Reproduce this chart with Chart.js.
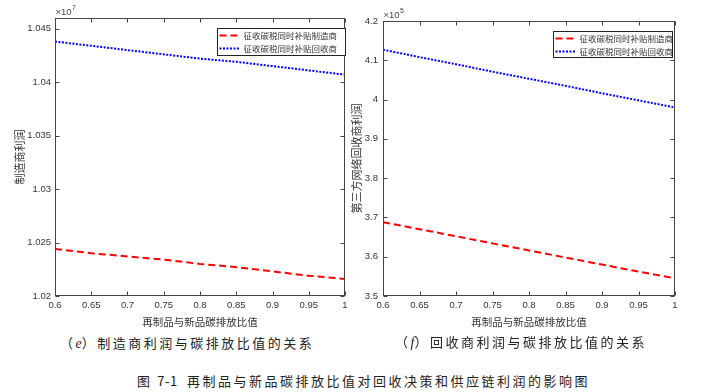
<!DOCTYPE html>
<html lang="zh">
<head>
<meta charset="UTF-8">
<title>图 7-1 再制品与新品碳排放比值的影响</title>
<script src="https://cdn.jsdelivr.net/npm/chart.js@4"></script>
<style>
  body { margin:0; background:#fff; }
  #wrap { position:relative; width:702px; height:392px; overflow:hidden; }
  canvas { position:absolute; top:0; }
  #c1 { left:0; }
  #c2 { left:348px; }
  .cap { position:absolute; font-family:"Noto Sans CJK SC"; font-size:13px; color:#222;
         letter-spacing:2.5px; white-space:nowrap; line-height:16px; }
  .cap i { font-family:"Liberation Serif"; font-size:14px; letter-spacing:0; }
</style>
</head>
<body>
<div id="wrap">
  <canvas id="c1" width="360" height="330"></canvas>
  <canvas id="c2" width="354" height="330"></canvas>
  <div class="cap" style="left:60px;top:335px;">（<i>e</i>）制造商利润与碳排放比值的关系</div>
  <div class="cap" style="left:395px;top:334px;">（<i>f</i>）回收商利润与碳排放比值的关系</div>
  <div class="cap" style="left:137px;top:373px;letter-spacing:0.5px;">图&nbsp;&nbsp;7-1</div>
  <div class="cap" style="left:187px;top:373px;">再制品与新品碳排放比值对回收决策和供应链利润的影响图</div>
</div>
<script>
// 再制品与新品碳排放比值
const ratio = [0.6, 0.65, 0.7, 0.75, 0.8, 0.85, 0.9, 0.95, 1];
const seriesNames = ['征收碳税同时补贴制造商', '征收碳税同时补贴回收商'];

// (e) 制造商利润, 单位 ×10^7
const mfrSubMfr = [1.0244, 1.0240, 1.0237, 1.0234, 1.0230, 1.0227, 1.0223, 1.0219, 1.0216];
const mfrSubRec = [1.0438, 1.0434, 1.0430, 1.0426, 1.0422, 1.0419, 1.0415, 1.0411, 1.0407];
const yTicksE = [1.02, 1.025, 1.03, 1.035, 1.04, 1.045];

// (f) 第三方网络回收商利润, 单位 ×10^5
const recSubMfr = [3.688, 3.670, 3.652, 3.634, 3.616, 3.598, 3.580, 3.562, 3.545];
const recSubRec = [4.127, 4.108, 4.090, 4.071, 4.053, 4.035, 4.016, 3.998, 3.980];
const yTicksF = [3.5, 3.6, 3.7, 3.8, 3.9, 4, 4.1, 4.2];

const tickFont = { family: 'Liberation Sans', size: 9.5 };
const cjkFont = 'Noto Sans CJK SC';

// MATLAB 风格的边框、内向刻度、指数标记和图例
const frame = {
  id: 'frame',
  afterDatasetsDraw(chart, args, opts) {
    const { ctx, chartArea: a, scales: { x, y } } = chart;
    const L = Math.round(a.left) + 0.5, R = Math.round(a.right) - 0.5;
    const T = Math.round(a.top) + 0.5, B = Math.round(a.bottom) - 0.5;
    ctx.save();
    ctx.strokeStyle = '#444';
    ctx.lineWidth = 1;
    ctx.setLineDash([]);
    ctx.strokeRect(L, T, R - L, B - T);
    ctx.beginPath();
    x.ticks.forEach(t => {
      const px = Math.round(x.getPixelForValue(t.value)) + 0.5;
      ctx.moveTo(px, B); ctx.lineTo(px, B - 4);
      ctx.moveTo(px, T); ctx.lineTo(px, T + 4);
    });
    y.ticks.forEach(t => {
      const py = Math.round(y.getPixelForValue(t.value)) + 0.5;
      ctx.moveTo(L, py); ctx.lineTo(L + 4, py);
      ctx.moveTo(R, py); ctx.lineTo(R - 4, py);
    });
    ctx.stroke();

    // ×10^n
    ctx.fillStyle = '#444';
    ctx.textBaseline = 'alphabetic';
    ctx.textAlign = 'left';
    ctx.font = '9.5px "Liberation Sans"';
    ctx.fillText('×10', L, T - 4);
    const w = ctx.measureText('×10').width;
    ctx.font = '7px "Liberation Sans"';
    ctx.fillText(opts.exp, L + w + 0.5, T - 9);

    // 图例
    const g = opts.legend;
    const bx = Math.round(a.right - g.dr - g.w) + 0.5, by = Math.round(a.top + g.dt) + 0.5;
    ctx.fillStyle = '#fff';
    ctx.fillRect(bx, by, g.w, g.h);
    ctx.strokeStyle = '#222';
    ctx.strokeRect(bx, by, g.w, g.h);
    ctx.font = '8.5px "' + cjkFont + '"';
    ctx.textBaseline = 'middle';
    chart.data.datasets.forEach((ds, i) => {
      const ry = by + 7 + i * 13;
      ctx.strokeStyle = ds.borderColor;
      ctx.lineWidth = ds.borderWidth;
      ctx.setLineDash(ds.borderDash);
      ctx.beginPath();
      ctx.moveTo(bx + 2, ry); ctx.lineTo(bx + 22, ry);
      ctx.stroke();
      ctx.fillStyle = '#333';
      ctx.fillText(ds.label, bx + 26, ry);
    });
    ctx.restore();
  }
};

function pts(arr) {
  return ratio.map((v, i) => ({ x: v, y: arr[i] }));
}

function makeChart(id, c) {
  return new Chart(document.getElementById(id), {
    type: 'line',
    data: {
      datasets: [
        { label: seriesNames[0], data: pts(c.red), borderColor: '#ff0000', borderWidth: 2,
          borderDash: [7, 4], pointRadius: 0, fill: false },
        { label: seriesNames[1], data: pts(c.blue), borderColor: '#0000ff', borderWidth: 2,
          borderDash: [2, 1.5], pointRadius: 0, fill: false }
      ]
    },
    options: {
      responsive: false,
      animation: false,
      layout: { padding: c.pad },
      plugins: {
        legend: { display: false },
        tooltip: { enabled: false },
        frame: { exp: c.exp, legend: c.legend }
      },
      scales: {
        x: {
          type: 'linear', min: 0.6, max: 1,
          afterBuildTicks: s => { s.ticks = ratio.map(v => ({ value: v })); },
          afterFit: s => { s.height = 34; },
          grid: { display: false, drawTicks: false },
          border: { display: false },
          ticks: { font: tickFont, color: '#333', padding: 4, maxRotation: 0,
                   callback: v => String(+v.toFixed(3)) },
          title: { display: true, text: '再制品与新品碳排放比值', color: '#333',
                   font: { family: cjkFont, size: 10.5 }, padding: { top: 0, bottom: 2 } }
        },
        y: {
          min: c.yMin, max: c.yMax,
          afterBuildTicks: s => { s.ticks = c.yTicks.map(v => ({ value: v })); },
          afterFit: s => { s.width = c.yWidth; },
          grid: { display: false, drawTicks: false },
          border: { display: false },
          ticks: { font: tickFont, color: '#333', padding: c.tickPad,
                   callback: v => String(+v.toFixed(3)) },
          title: { display: true, text: c.yTitle, color: '#333',
                   font: { family: cjkFont, size: 11 }, padding: { top: c.titlePad, bottom: 0 } }
        }
      }
    },
    plugins: [frame]
  });
}

makeChart('c1', {
  red: mfrSubMfr, blue: mfrSubRec,
  yMin: 1.02, yMax: 1.046, yTicks: yTicksE, exp: '7',
  yTitle: '制造商利润', yWidth: 55, tickPad: 4, titlePad: 13,
  pad: { top: 18, right: 15, left: 0, bottom: 0 },
  legend: { dr: 0, dt: 10, w: 128, h: 27 }
});

makeChart('c2', {
  red: recSubMfr, blue: recSubRec,
  yMin: 3.5, yMax: 4.2, yTicks: yTicksF, exp: '5',
  yTitle: '第三方网络回收商利润', yWidth: 35, tickPad: 5, titlePad: 2,
  pad: { top: 21, right: 27, left: 0, bottom: 0 },
  legend: { dr: 3, dt: 10, w: 119, h: 26 }
});
</script>
</body>
</html>
